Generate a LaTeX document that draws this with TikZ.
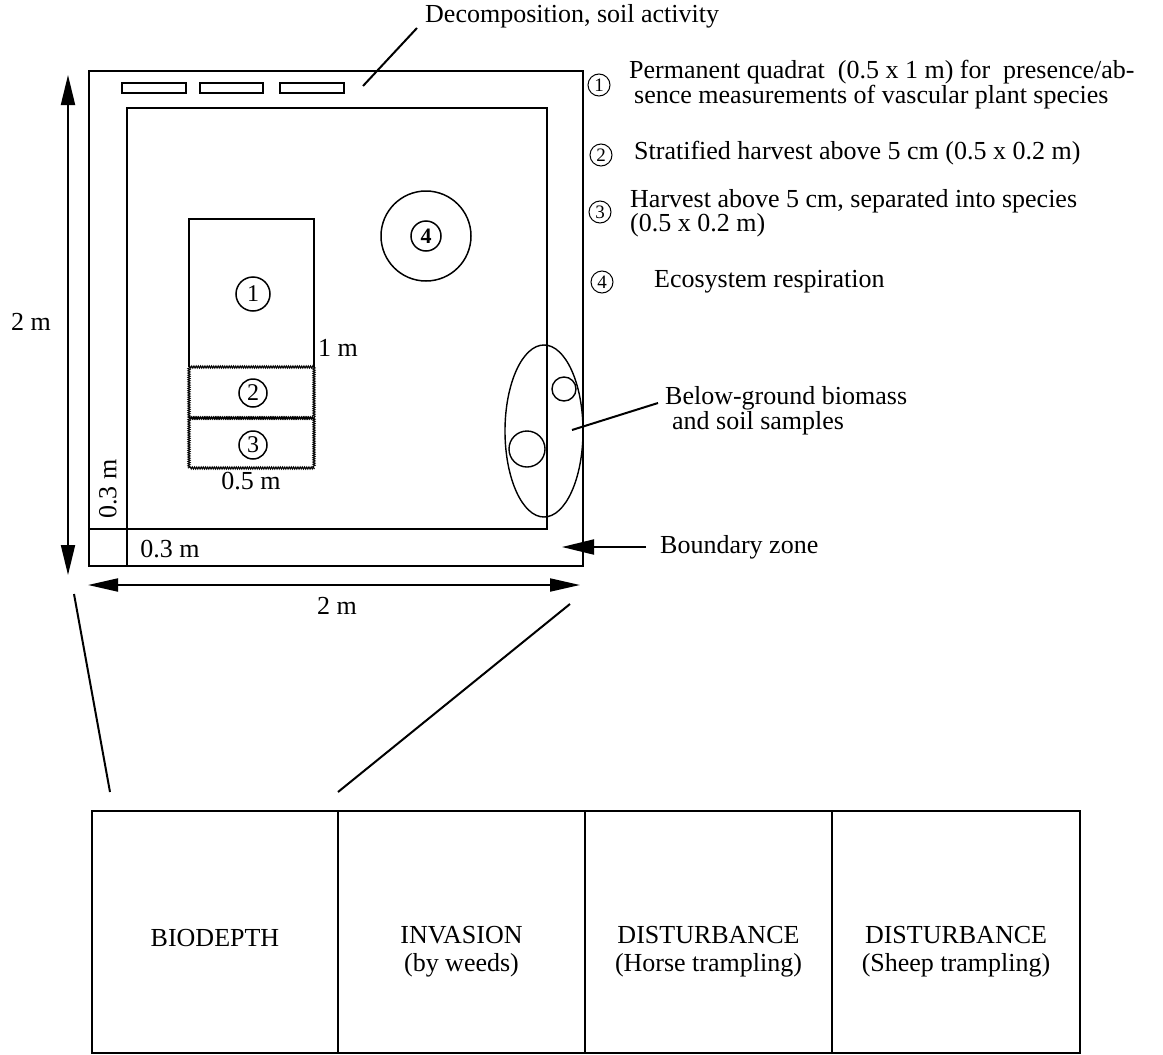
\documentclass[tikz,border=0pt]{standalone}
\usepackage{fontspec}
\setmainfont{Liberation Serif}
\usetikzlibrary{arrows.meta,decorations.pathmorphing}
\begin{document}
\begin{tikzpicture}[x=1pt,y=-1pt,
  txt/.style={font=\fontsize{26}{28}\selectfont, inner sep=0pt},
  ltxt/.style={font=\fontsize{26}{24.5}\selectfont, inner sep=0pt, align=left, anchor=north west},
  ln/.style={line width=2pt},
  thinln/.style={line width=1.4pt},
  hatch/.style={line width=1pt, decorate, decoration={zigzag,segment length=2.2pt,amplitude=1.1pt}},
  qcirc/.style={circle, draw, line width=1.5pt, minimum size=34pt, inner sep=0pt, font=\fontsize{24}{24}\selectfont},
  lcirc/.style={circle, draw, line width=1pt, minimum size=22pt, inner sep=0pt, font=\fontsize{19}{19}\selectfont},
  panel/.style={draw, line width=1.5pt, minimum width=246pt, minimum height=242pt, inner sep=0pt}
]
\useasboundingbox (0,0) rectangle (1163,1055);

% plot outline
\draw[ln] (89,71) rectangle (583,566);
\draw[ln] (127,566) -- (127,108) -- (547,108) -- (547,529) -- (89,529);

% decomposition bars
\draw[thinln] (122,83) rectangle (186,93);
\draw[thinln] (200,83) rectangle (263,93);
\draw[thinln] (280,83) rectangle (344,93);
\node[txt,anchor=west] (decomp) at (425,16) {Decomposition, soil activity};
\coordinate (dA) at (363,86);
\coordinate (dB) at (417,28);
\draw[ln] (dA) -- (dB);

% quadrats
\draw[ln] (189,367) -- (189,219) -- (314,219) -- (314,367);
\draw[hatch] (189,367) rectangle (314,418);
\draw[hatch] (189,418) rectangle (314,468);
\node[qcirc] (q1) at (253,294) {1};
\node[qcirc, minimum size=28pt] (q2) at (253,393) {2};
\node[qcirc, minimum size=28pt] (q3) at (253,445) {3};
\node[txt,anchor=west] (onem) at (318,348) {1 m};
\node[txt] (halfm) at (251,481) {0.5 m};

% respiration ring
\node[circle, draw, line width=1.5pt, minimum size=90pt, inner sep=0pt] (resp) at (426,236) {};
\node[qcirc, minimum size=30pt, font=\fontsize{22}{22}\selectfont\bfseries] (q4) at (426,236) {4};

% below-ground samples
\draw[thinln] (544,431) ellipse [x radius=39, y radius=86];
\node[circle, draw, line width=1.4pt, minimum size=24pt, inner sep=0pt] (s1) at (564,389) {};
\node[circle, draw, line width=1.4pt, minimum size=36pt, inner sep=0pt] (s2) at (527,449) {};
\coordinate (bgA) at (572,430);
\coordinate (bgB) at (658,403);
\draw[ln] (bgA) -- (bgB);
\node[txt,anchor=west] (bg1) at (665,398) {Below-ground biomass};
\node[txt,anchor=west] (bg2) at (672,423) {and soil samples};

% boundary zone
\node[txt,anchor=west] (bz) at (660,547) {Boundary zone};
\coordinate (bzA) at (646,547);
\coordinate (bzB) at (562,547);
\draw[ln, -{Triangle[length=32pt,width=15pt]}] (bzA) -- (bzB);

% dimension arrows
\coordinate (vt) at (68,75);
\coordinate (vb) at (68,575);
\draw[ln, {Triangle[length=30pt,width=14pt]}-{Triangle[length=30pt,width=14pt]}] (vt) -- (vb);
\node[txt] (vlab) at (31,322) {2 m};
\coordinate (hl) at (88,585);
\coordinate (hr) at (580,585);
\draw[ln, {Triangle[length=30pt,width=13pt]}-{Triangle[length=30pt,width=13pt]}] (hl) -- (hr);
\node[txt] (hlab) at (337,606) {2 m};

\node[txt,rotate=90] (w03) at (108,489) {0.3 m};
\node[txt] (h03) at (170,549) {0.3 m};

% legend
\node[lcirc] (l1) at (599,85) {1};
\node[lcirc] (l2) at (601,155) {2};
\node[lcirc] (l3) at (600,212) {3};
\node[lcirc] (l4) at (602,282) {4};
\node[ltxt] (t1) at (629,60) {Permanent quadrat\ \ (0.5 x 1 m) for\ \ presence/ab-\\\hspace*{5pt}sence measurements of vascular plant species};
\node[txt,anchor=west] (t2) at (634,153) {Stratified harvest above 5 cm (0.5 x 0.2 m)};
\node[ltxt] (t3) at (630,189) {Harvest above 5 cm, separated into species\\(0.5 x 0.2 m)};
\node[txt,anchor=west] (t4) at (654,282) {Ecosystem respiration};

% zoom lines
\coordinate (zl1) at (74,594);
\coordinate (zl2) at (110,792);
\coordinate (zr1) at (570,604);
\coordinate (zr2) at (338,792);
\draw[ln] (zl1) -- (zl2);
\draw[ln] (zr1) -- (zr2);

% experiment panels
\node[panel] (b1) at (215,932) {};
\node[panel] (b2) at (461.5,932) {};
\node[panel] (b3) at (708.5,932) {};
\node[panel, minimum width=248pt] (b4) at (956,932) {};
\node[txt] (b1t) at (b1.center) [yshift=-6pt] {BIODEPTH};
\node[txt, align=center] (b2t) at (b2.center) [yshift=-20pt] {INVASION\\(by weeds)};
\node[txt, align=center] (b3t) at (b3.center) [yshift=-20pt] {DISTURBANCE\\(Horse trampling)};
\node[txt, align=center] (b4t) at (b4.center) [yshift=-20pt] {DISTURBANCE\\(Sheep trampling)};
\end{tikzpicture}
\end{document}
